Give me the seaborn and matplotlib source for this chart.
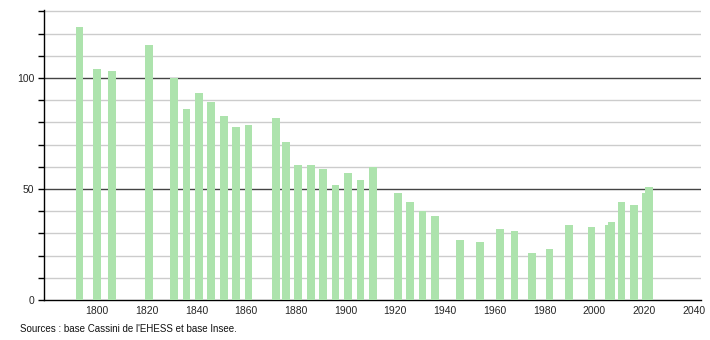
import matplotlib
matplotlib.use("Agg")
import matplotlib.pyplot as plt
import seaborn as sns
import pandas as pd
from matplotlib.ticker import MultipleLocator, FixedLocator

years = [1793, 1800, 1806, 1821, 1831, 1836, 1841, 1846, 1851, 1856, 1861,
         1872, 1876, 1881, 1886, 1891, 1896, 1901, 1906, 1911,
         1921, 1926, 1931, 1936, 1946, 1954, 1962, 1968, 1975, 1982,
         1990, 1999, 2006, 2007, 2011, 2016, 2021, 2022]
population = [123, 104, 103, 115, 100, 86, 93, 89, 83, 78, 79,
              82, 71, 61, 61, 59, 52, 57, 54, 60,
              48, 44, 40, 38, 27, 26, 32, 31, 21, 23,
              34, 33, 34, 35, 44, 43, 48, 51]
x_tick_values = list(range(1800, 2041, 20))
y_label_values = [0, 50, 100]
source_text = "Sources : base Cassini de l'EHESS et base Insee."

df = pd.DataFrame({"year": years, "population": population})

sns.set_theme(style="white")
plt.rcParams["font.family"] = ["Liberation Sans", "DejaVu Sans"]

fig = plt.figure(figsize=(7.1, 3.4), dpi=100)
ax = fig.add_axes([44 / 710, 40 / 340, (701 - 44) / 710, (300 - 10) / 340])

sns.barplot(data=df, x="year", y="population", native_scale=True,
            width=3.1, color="#ade3ad", saturation=1, ax=ax, zorder=3,
            linewidth=0)

ax.set_xlim(1778.7, 2043)
ax.set_ylim(0, 130.6)

ax.yaxis.set_major_locator(FixedLocator(y_label_values))
ax.yaxis.set_minor_locator(MultipleLocator(10))
ax.xaxis.set_major_locator(FixedLocator(x_tick_values))
ax.set_xticklabels([str(v) for v in x_tick_values])

ax.grid(False)
for v in range(10, 131, 10):
    if v % 50 == 0:
        ax.axhline(v, color="#444444", linewidth=1.0, zorder=1)
    else:
        ax.axhline(v, color="#cccccc", linewidth=1.0, zorder=1)

for s in ["top", "right"]:
    ax.spines[s].set_visible(False)
for s in ["left", "bottom"]:
    ax.spines[s].set_color("black")
    ax.spines[s].set_linewidth(1.0)

ax.tick_params(axis="y", which="both", left=True, length=4, width=1,
               color="black", labelsize=7.5, pad=3)
ax.tick_params(axis="x", which="both", bottom=False, length=0,
               labelsize=7.5, pad=4)
ax.set_xlabel("")
ax.set_ylabel("")

fig.text(20 / 710, 1 - 329 / 340, source_text, fontsize=7, va="center",
         ha="left", color="#111111")

fig.savefig("out.png", dpi=100)
